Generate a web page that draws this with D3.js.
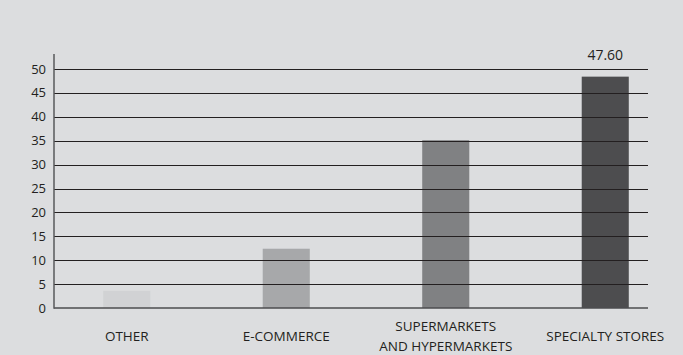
<!DOCTYPE html>
<html>
<head>
<meta charset="utf-8">
<script src="https://cdn.jsdelivr.net/npm/d3@7"></script>
<style>
  html, body { margin: 0; padding: 0; background: #dcdddf; }
  svg { display: block; font-family: 'Open Sans', 'Noto Sans', sans-serif; }
</style>
</head>
<body>
<div id="chart"></div>
<script>
// channel share, values
const categories = ['OTHER', 'E-COMMERCE', 'SUPERMARKETS\nAND HYPERMARKETS', 'SPECIALTY STORES'];
const values = [3.6, 12.4, 35.1, 48.4];
const valueLabels = ['', '', '', '47.60'];
const barColors = ['#d1d2d4', '#a7a8aa', '#808183', '#4d4d4f'];
const yTicks = [0, 5, 10, 15, 20, 25, 30, 35, 40, 45, 50];

var width = 683;
var height = 355;
var plotLeft = 54;
var plotRight = 648;
var plotTop = 69;
var plotBottom = 308;

var svg = d3.select('#chart').append('svg')
  .attr('width', width)
  .attr('height', height);

svg.append('rect')
  .attr('width', width)
  .attr('height', height)
  .attr('fill', '#dcdddf');

var y = d3.scaleLinear()
  .domain([0, 50])
  .range([plotBottom, plotTop]);

// bars are spread evenly, slots wider than the plot on the right
var x = d3.scaleBand()
  .domain(categories)
  .range([47, 685])
  .paddingInner(0.705)
  .paddingOuter(0.3525);

// bars first, grid lines sit on top of them
svg.append('g')
  .selectAll('rect')
  .data(values)
  .enter().append('rect')
    .attr('x', (d, i) => x(categories[i]))
    .attr('y', d => y(d))
    .attr('width', x.bandwidth())
    .attr('height', d => y(0) - y(d))
    .attr('fill', (d, i) => barColors[i]);

svg.append('g')
  .selectAll('line')
  .data(yTicks.filter(t => t > 0))
  .enter().append('line')
    .attr('x1', plotLeft)
    .attr('x2', plotRight)
    .attr('y1', d => Math.round(y(d)) + 0.5)
    .attr('y2', d => Math.round(y(d)) + 0.5)
    .attr('stroke', '#231f20')
    .attr('stroke-width', 1);

// axes
svg.append('line')
  .attr('x1', plotLeft)
  .attr('x2', plotRight)
  .attr('y1', y(0))
  .attr('y2', y(0))
  .attr('stroke', '#4d4d4f')
  .attr('stroke-width', 1.5);

svg.append('line')
  .attr('x1', plotLeft)
  .attr('x2', plotLeft)
  .attr('y1', 54)
  .attr('y2', y(0) + 0.75)
  .attr('stroke', '#58595b')
  .attr('stroke-width', 1.5);

svg.append('g')
  .selectAll('text')
  .data(yTicks)
  .enter().append('text')
    .attr('x', 46)
    .attr('y', d => y(d) + 4.5)
    .attr('text-anchor', 'end')
    .attr('font-size', 13)
    .attr('fill', '#231f20')
    .text(d => d);

// category labels, one or two lines
var labels = svg.append('g')
  .selectAll('text')
  .data(categories)
  .enter().append('text')
    .attr('text-anchor', 'middle')
    .attr('font-size', 13.5)
    .attr('fill', '#231f20')
    .attr('transform', d => {
      var lines = d.split('\n').length;
      return 'translate(' + (x(d) + x.bandwidth() / 2) + ',' + (341 - (lines - 1) * 10) + ')';
    });

labels.selectAll('tspan')
  .data(d => d.split('\n'))
  .enter().append('tspan')
    .attr('x', 0)
    .attr('y', (d, i) => i * 20)
    .text(d => d);

svg.append('g')
  .selectAll('text')
  .data(values)
  .enter().append('text')
    .attr('x', (d, i) => x(categories[i]) + x.bandwidth() / 2)
    .attr('y', 60)
    .attr('text-anchor', 'middle')
    .attr('font-size', 14)
    .attr('fill', '#231f20')
    .text((d, i) => valueLabels[i]);
</script>
</body>
</html>
